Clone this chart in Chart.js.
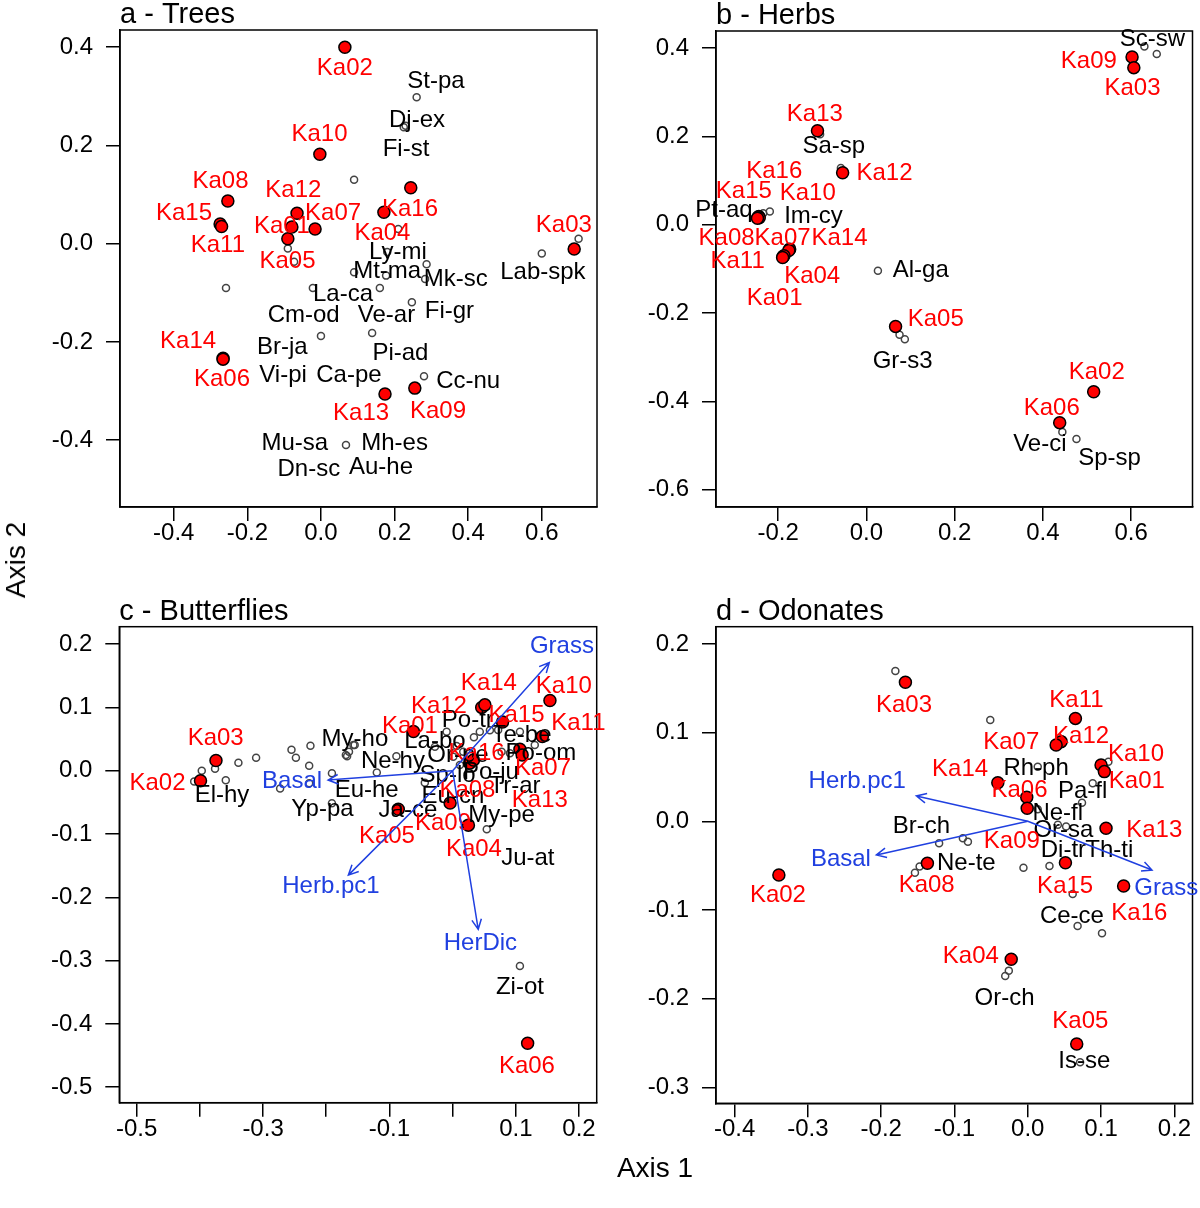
<!DOCTYPE html>
<html>
<head>
<meta charset="utf-8">
<script src="https://cdn.jsdelivr.net/npm/chart.js@4.4.0/dist/chart.umd.min.js"></script>
<style>
  body { margin: 0; background: #fff; }
  #wrap { position: relative; width: 1200px; height: 1208px; font-family: "Liberation Sans", Arial, Helvetica, sans-serif; }
  canvas { position: absolute; }
  .axt { position: absolute; font-size: 28px; color: #000; transform: translate(-50%, -50%); white-space: nowrap; }
</style>
</head>
<body>
<div id="wrap">
  <canvas id="pa" width="640" height="604" style="left:0;top:0"></canvas>
  <canvas id="pb" width="600" height="604" style="left:600px;top:0"></canvas>
  <canvas id="pc" width="640" height="634" style="left:0;top:574px"></canvas>
  <canvas id="pd" width="600" height="634" style="left:600px;top:574px"></canvas>
  <div class="axt" style="left:655px;top:1168px">Axis 1</div>
  <div class="axt" style="left:16px;top:560px;transform:translate(-50%,-50%) rotate(-90deg)">Axis 2</div>
</div>
<script>
// ---- a - Trees ----
const treesSites = [[0.065, 0.40], [-0.003, 0.182], [-0.253, 0.087], [-0.274, 0.040], [-0.270, 0.035],
  [-0.065, 0.062], [-0.079, 0.034], [-0.016, 0.030], [-0.090, 0.010], [0.244, 0.114], [0.171, 0.064],
  [0.688, -0.011], [-0.266, -0.233], [-0.266, -0.235], [0.174, -0.306], [0.255, -0.294]];
const treesSpp = [[0.26, 0.298], [0.23, 0.24], [0.225, 0.237], [0.09, 0.13], [0.21, 0.03], [0.70, 0.01],
  [0.60, -0.02], [0.18, -0.017], [0.09, -0.058], [0.177, -0.065], [0.287, -0.042], [0.283, -0.072],
  [-0.022, -0.09], [0.16, -0.09], [-0.258, -0.09], [0.247, -0.119], [0.139, -0.182], [0.0, -0.188],
  [0.28, -0.27], [0.068, -0.41], [-0.09, -0.01], [-0.073, -0.037]];
const treesSiteLab = [['Ka02', 0.065, 0.357], ['Ka10', -0.004, 0.223], ['Ka08', -0.273, 0.126],
  ['Ka12', -0.075, 0.108], ['Ka15', -0.372, 0.062], ['Ka07', 0.033, 0.062], ['Ka01', -0.106, 0.035],
  ['Ka16', 0.242, 0.070], ['Ka04', 0.167, 0.021], ['Ka03', 0.66, 0.038], ['Ka11', -0.28, -0.004],
  ['Ka05', -0.091, -0.037], ['Ka14', -0.361, -0.199], ['Ka06', -0.269, -0.277], ['Ka13', 0.109, -0.345],
  ['Ka09', 0.318, -0.342]];
const treesSppLab = [['St-pa', 0.3125, 0.330], ['Dj-ex', 0.261, 0.252], ['Fi-st', 0.231, 0.193],
  ['Ly-mi', 0.209, -0.0175], ['Mt-ma', 0.18, -0.057], ['Mk-sc', 0.366, -0.072], ['Lab-spk', 0.603, -0.058],
  ['La-ca', 0.06, -0.104], ['Cm-od', -0.047, -0.145], ['Ve-ar', 0.178, -0.145], ['Fi-gr', 0.349, -0.138],
  ['Br-ja', -0.105, -0.211], ['Pi-ad', 0.216, -0.223], ['Vi-pi', -0.103, -0.268], ['Ca-pe', 0.076, -0.268],
  ['Cc-nu', 0.40, -0.281], ['Mu-sa', -0.071, -0.4075], ['Mh-es', 0.20, -0.4075], ['Dn-sc', -0.033, -0.46],
  ['Au-he', 0.163, -0.456]];
const treesXTicks = [-0.4, -0.2, 0, 0.2, 0.4, 0.6];
const treesXLabels = ['-0.4', '-0.2', '0.0', '0.2', '0.4', '0.6'];
const treesYTicks = [-0.4, -0.2, 0, 0.2, 0.4];
const treesYLabels = ['-0.4', '-0.2', '0.0', '0.2', '0.4'];

// ---- b - Herbs ----
const herbsSites = [[-0.111, 0.213], [-0.054, 0.118], [-0.2455, 0.017], [-0.244, 0.019], [-0.243, 0.016],
  [-0.247, 0.015], [-0.174, -0.055], [-0.176, -0.058], [-0.189, -0.072], [-0.187, -0.070], [-0.190, -0.074],
  [0.066, -0.230], [0.602, 0.380], [0.606, 0.356], [0.515, -0.378], [0.438, -0.448]];
const herbsSpp = [[-0.105, 0.205], [-0.058, 0.129], [-0.234, 0.026], [-0.219, 0.030], [0.026, -0.104],
  [0.075, -0.249], [0.087, -0.259], [0.630, 0.404], [0.658, 0.387], [0.444, -0.469], [0.476, -0.485],
  [-0.18, -0.06]];
const herbsSiteLab = [['Ka09', 0.504, 0.371], ['Ka03', 0.603, 0.308], ['Ka13', -0.117, 0.251],
  ['Ka12', 0.041, 0.1155], ['Ka16', -0.209, 0.122], ['Ka15', -0.278, 0.075], ['Ka10', -0.133, 0.072],
  ['Ka08', -0.317, -0.030], ['Ka07', -0.190, -0.030], ['Ka14', -0.061, -0.030], ['Ka11', -0.292, -0.082],
  ['Ka04', -0.123, -0.116], ['Ka01', -0.208, -0.166], ['Ka05', 0.157, -0.213], ['Ka02', 0.522, -0.335],
  ['Ka06', 0.42, -0.415]];
const herbsSppLab = [['Sc-sw', 0.648, 0.419], ['Sa-sp', -0.074, 0.177], ['Pt-aq', -0.323, 0.032],
  ['Im-cy', -0.12, 0.019], ['Al-ga', 0.123, -0.104], ['Gr-s3', 0.082, -0.31], ['Ve-ci', 0.393, -0.498],
  ['Sp-sp', 0.551, -0.528]];
const herbsXTicks = [-0.2, 0, 0.2, 0.4, 0.6];
const herbsXLabels = ['-0.2', '0.0', '0.2', '0.4', '0.6'];
const herbsYTicks = [-0.6, -0.4, -0.2, 0, 0.2, 0.4];
const herbsYLabels = ['-0.6', '-0.4', '-0.2', '0.0', '0.2', '0.4'];

// ---- c - Butterflies ----
const buttSites = [[-0.062, 0.062], [-0.399, -0.016], [-0.3745, 0.016], [0.025, -0.086], [-0.086, -0.061],
  [0.1187, -0.4307], [0.1065, 0.034], [0.027, 0.012], [-0.004, -0.051], [0.154, 0.111], [0.142, 0.054],
  [0.046, 0.100], [0.110, 0.025], [0.051, 0.104], [0.079, 0.077], [0.033, 0.017]];
const buttSpp = [[-0.397, 0.0], [-0.409, -0.017], [-0.376, 0.003], [-0.359, -0.015], [-0.339, 0.0126],
  [-0.311, 0.0205], [-0.255, 0.033], [-0.248, 0.0205], [-0.225, 0.0395], [-0.227, 0.008], [-0.191, -0.004],
  [-0.273, -0.028], [-0.227, -0.02], [-0.191, -0.0515], [-0.167, 0.023], [-0.164, 0.030], [-0.155, 0.0406],
  [-0.169, 0.0248], [-0.157, 0.0406], [-0.12, -0.003], [-0.089, 0.023], [-0.044, -0.019], [-0.0095, 0.0616],
  [-0.028, 0.038], [0.0063, 0.039], [0.001, 0.022], [0.0168, 0.030], [0.0337, 0.053], [0.043, 0.0616],
  [0.059, 0.064], [0.0775, 0.030], [0.0907, 0.0275], [0.1065, 0.0616], [0.130, 0.0406], [0.054, -0.0926],
  [0.0115, 0.009], [0.072, 0.0643], [0.1065, -0.3085]];
const buttSiteLab = [['Ka03', -0.375, 0.051], ['Ka02', -0.467, -0.020], ['Ka01', -0.0676, 0.0695],
  ['Ka12', -0.0217, 0.102], ['Ka14', 0.0574, 0.138], ['Ka10', 0.176, 0.1327], ['Ka15', 0.101, 0.088],
  ['Ka11', 0.199, 0.0749], ['Ka16', 0.038, 0.0275], ['Ka07', 0.143, 0.0038], ['Ka08', 0.0234, -0.0305],
  ['Ka13', 0.138, -0.0463], ['Ka05', -0.104, -0.104], ['Ka09', -0.0153, -0.083], ['Ka04', 0.0337, -0.125],
  ['Ka06', 0.1176, -0.4665]];
const buttSppLab = [['El-hy', -0.365, -0.0395], ['My-ho', -0.1546, 0.0496], ['Yp-pa', -0.206, -0.061],
  ['Eu-he', -0.136, -0.0305], ['Ne-hy', -0.0945, 0.0142], ['La-bo', -0.028, 0.0458], ['Po-tr', 0.024, 0.080],
  ['Te-be', 0.109, 0.0564], ['Or-pe', 0.0085, 0.0248], ['Po-om', 0.1397, 0.0275], ['Sp-lo', -0.008, -0.0068],
  ['Po-ju', 0.0606, -0.003], ['Tr-ar', 0.0986, -0.0253], ['Eu-cn', 0.0005, -0.041], ['Ja-ce', -0.0707, -0.062],
  ['My-pe', 0.0775, -0.070], ['Ju-at', 0.119, -0.138], ['Zi-ot', 0.1065, -0.342]];
// name, arrow tip x, y, label x, y
const buttVectors = [['Grass', 0.153, 0.171, 0.173, 0.197], ['Basal', -0.197, -0.0147, -0.254, -0.0174],
  ['Herb.pc1', -0.165, -0.165, -0.1926, -0.182], ['HerDic', 0.0405, -0.2506, 0.044, -0.2727]];
const buttXTicks = [-0.5, -0.4, -0.3, -0.2, -0.1, 0, 0.1, 0.2];
const buttXLabels = ['-0.5', '', '-0.3', '', '-0.1', '', '0.1', '0.2'];
const buttYTicks = [-0.5, -0.4, -0.3, -0.2, -0.1, 0, 0.1, 0.2];
const buttYLabels = ['-0.5', '-0.4', '-0.3', '-0.2', '-0.1', '0.0', '0.1', '0.2'];

// ---- d - Odonates ----
const odoSites = [[-0.167, 0.1567], [-0.3397, -0.0605], [-0.137, -0.0474], [0.065, 0.116], [0.0455, 0.0898],
  [0.0387, 0.086], [0.100, 0.0635], [0.1045, 0.056], [-0.0409, 0.0435], [-0.0014, 0.027], [-0.0008, 0.0146],
  [0.1068, -0.0079], [0.0514, -0.0467], [0.1308, -0.073], [-0.0226, -0.1556], [0.0668, -0.2511]];
const odoSpp = [[-0.1807, 0.1695], [-0.1476, -0.051], [-0.154, -0.058], [-0.121, -0.0248], [-0.0512, 0.1142],
  [0.110, 0.067], [0.0136, 0.0616], [0.0886, 0.0428], [0.074, 0.021], [0.0136, 0.0135], [0.0523, -0.006],
  [0.041, -0.004], [0.0296, -0.0504], [-0.0059, -0.0523], [-0.0886, -0.0192], [-0.0817, -0.023],
  [0.0613, -0.082], [0.068, -0.118], [0.1013, -0.1263], [-0.0259, -0.1684], [-0.0308, -0.1744],
  [0.0714, -0.2717], [0.047, 0.092]];
const odoSiteLab = [['Ka03', -0.169, 0.131], ['Ka02', -0.341, -0.084], ['Ka08', -0.138, -0.0718],
  ['Ka11', 0.0664, 0.1368], ['Ka07', -0.0226, 0.0886], ['Ka12', 0.0727, 0.096], ['Ka10', 0.1477, 0.0759],
  ['Ka14', -0.0924, 0.0586], ['Ka01', 0.1488, 0.0446], ['Ka06', -0.0113, 0.0353], ['Ka13', 0.1726, -0.0098],
  ['Ka09', -0.0218, -0.023], ['Ka15', 0.051, -0.0737], ['Ka16', 0.1522, -0.1037], ['Ka04', -0.0777, -0.1526],
  ['Ka05', 0.0718, -0.2259]];
const odoSppLab = [['Br-ch', -0.145, -0.006], ['Ne-te', -0.0839, -0.0474], ['Rh-ph', 0.0114, 0.0598],
  ['Pa-fl', 0.0749, 0.0334], ['Ne-fl', 0.0409, 0.009], ['Or-sa', 0.0486, -0.0098], ['Di-tr', 0.0486, -0.0324],
  ['Th-ti', 0.1113, -0.0324], ['Ce-ce', 0.0602, -0.1068], ['Or-ch', -0.0317, -0.1995], ['Is-se', 0.0772, -0.271]];
const odoVectors = [['Herb.pc1', -0.152, 0.0285, -0.2327, 0.0446], ['Basal', -0.2066, -0.038, -0.255, -0.0428],
  ['Grass', 0.1695, -0.055, 0.189, -0.0755]];
const odoXTicks = [-0.4, -0.3, -0.2, -0.1, 0, 0.1, 0.2];
const odoXLabels = ['-0.4', '-0.3', '-0.2', '-0.1', '0.0', '0.1', '0.2'];
const odoYTicks = [-0.3, -0.2, -0.1, 0, 0.1, 0.2];
const odoYLabels = ['-0.3', '-0.2', '-0.1', '0.0', '0.1', '0.2'];

const FONT = '"Liberation Sans", Arial, Helvetica, sans-serif';
const RED = '#ff0000';
const BLUE = '#2040e0';

function axis(min, max, ticks, labels, size, isX) {
  return {
    type: 'linear',
    min: min,
    max: max,
    afterBuildTicks: s => { s.ticks = ticks.map(v => ({ value: v })); },
    afterFit: s => { if (isX) s.height = size; else s.width = size; },
    grid: { drawOnChartArea: false, drawTicks: true, tickLength: 14, color: '#000', lineWidth: 1.5 },
    border: { display: true, color: '#000', width: 1.5 },
    ticks: {
      autoSkip: false, maxRotation: 0, padding: isX ? -2 : 13, color: '#000',
      font: { family: FONT, size: 24 },
      callback: (v, i) => labels[i]
    }
  };
}

function ordiPlugin(p) {
  return {
    id: 'ordi',
    afterDatasetsDraw(chart) {
      const { ctx, chartArea: a, scales: { x, y } } = chart;
      ctx.save();
      ctx.strokeStyle = '#000';
      ctx.lineWidth = 1.5;
      ctx.strokeRect(a.left, a.top, a.right - a.left, a.bottom - a.top);

      ctx.font = '24px ' + FONT;
      ctx.textAlign = 'center';
      ctx.textBaseline = 'middle';
      ctx.fillStyle = '#000';
      p.sppLab.forEach(l => ctx.fillText(l[0], x.getPixelForValue(l[1]), y.getPixelForValue(l[2])));
      ctx.fillStyle = RED;
      p.siteLab.forEach(l => ctx.fillText(l[0], x.getPixelForValue(l[1]), y.getPixelForValue(l[2])));

      // environmental vectors
      ctx.strokeStyle = BLUE;
      ctx.fillStyle = BLUE;
      (p.vectors || []).forEach(v => {
        const x0 = x.getPixelForValue(0), y0 = y.getPixelForValue(0);
        const x1 = x.getPixelForValue(v[1]), y1 = y.getPixelForValue(v[2]);
        const ang = Math.atan2(y1 - y0, x1 - x0);
        ctx.beginPath();
        ctx.moveTo(x0, y0);
        ctx.lineTo(x1, y1);
        ctx.moveTo(x1 - 11 * Math.cos(ang - 0.45), y1 - 11 * Math.sin(ang - 0.45));
        ctx.lineTo(x1, y1);
        ctx.lineTo(x1 - 11 * Math.cos(ang + 0.45), y1 - 11 * Math.sin(ang + 0.45));
        ctx.stroke();
        ctx.fillText(v[0], x.getPixelForValue(v[3]), y.getPixelForValue(v[4]));
      });

      ctx.fillStyle = '#000';
      ctx.font = '29px ' + FONT;
      ctx.textAlign = 'left';
      ctx.textBaseline = 'alphabetic';
      ctx.fillText(p.title, a.left, a.top - 7);
      ctx.restore();
    }
  };
}

function makePanel(id, p) {
  return new Chart(document.getElementById(id), {
    type: 'scatter',
    data: {
      datasets: [
        { data: p.sites.map(s => ({ x: s[0], y: s[1] })), pointRadius: 6, backgroundColor: RED, borderColor: '#000', borderWidth: 1.5 },
        { data: p.spp.map(s => ({ x: s[0], y: s[1] })), pointRadius: 3.5, backgroundColor: 'rgba(0,0,0,0)', borderColor: '#444', borderWidth: 1.5 }
      ]
    },
    options: {
      responsive: false,
      animation: false,
      events: [],
      layout: { padding: p.pad },
      plugins: { legend: { display: false }, tooltip: { enabled: false } },
      scales: {
        x: axis(p.xr[0], p.xr[1], p.xt, p.xl, p.xh, true),
        y: axis(p.yr[0], p.yr[1], p.yt, p.yl, p.yw, false)
      }
    },
    plugins: [ordiPlugin(p)]
  });
}

makePanel('pa', {
  title: 'a - Trees', sites: treesSites, spp: treesSpp, siteLab: treesSiteLab, sppLab: treesSppLab,
  xr: [-0.546, 0.75], yr: [-0.536, 0.435], xt: treesXTicks, xl: treesXLabels, yt: treesYTicks, yl: treesYLabels,
  pad: { left: 0, top: 30, right: 43, bottom: 0 }, yw: 120, xh: 97
});
makePanel('pb', {
  title: 'b - Herbs', sites: herbsSites, spp: herbsSpp, siteLab: herbsSiteLab, sppLab: herbsSppLab,
  xr: [-0.341, 0.739], yr: [-0.639, 0.439], xt: herbsXTicks, xl: herbsXLabels, yt: herbsYTicks, yl: herbsYLabels,
  pad: { left: 0, top: 31, right: 7, bottom: 0 }, yw: 116, xh: 97
});
makePanel('pc', {
  title: 'c - Butterflies', sites: buttSites, spp: buttSpp, siteLab: buttSiteLab, sppLab: buttSppLab, vectors: buttVectors,
  xr: [-0.5275, 0.228], yr: [-0.5245, 0.2275], xt: buttXTicks, xl: buttXLabels, yt: buttYTicks, yl: buttYLabels,
  pad: { left: 0, top: 52.7, right: 43.3, bottom: 0 }, yw: 119.3, xh: 105.3
});
makePanel('pd', {
  title: 'd - Odonates', sites: odoSites, spp: odoSpp, siteLab: odoSiteLab, sppLab: odoSppLab, vectors: odoVectors,
  xr: [-0.4255, 0.2248], yr: [-0.318, 0.2194], xt: odoXTicks, xl: odoXLabels, yt: odoYTicks, yl: odoYLabels,
  pad: { left: 0, top: 52.7, right: 6.7, bottom: 0 }, yw: 116, xh: 104.7
});
</script>
</body>
</html>
